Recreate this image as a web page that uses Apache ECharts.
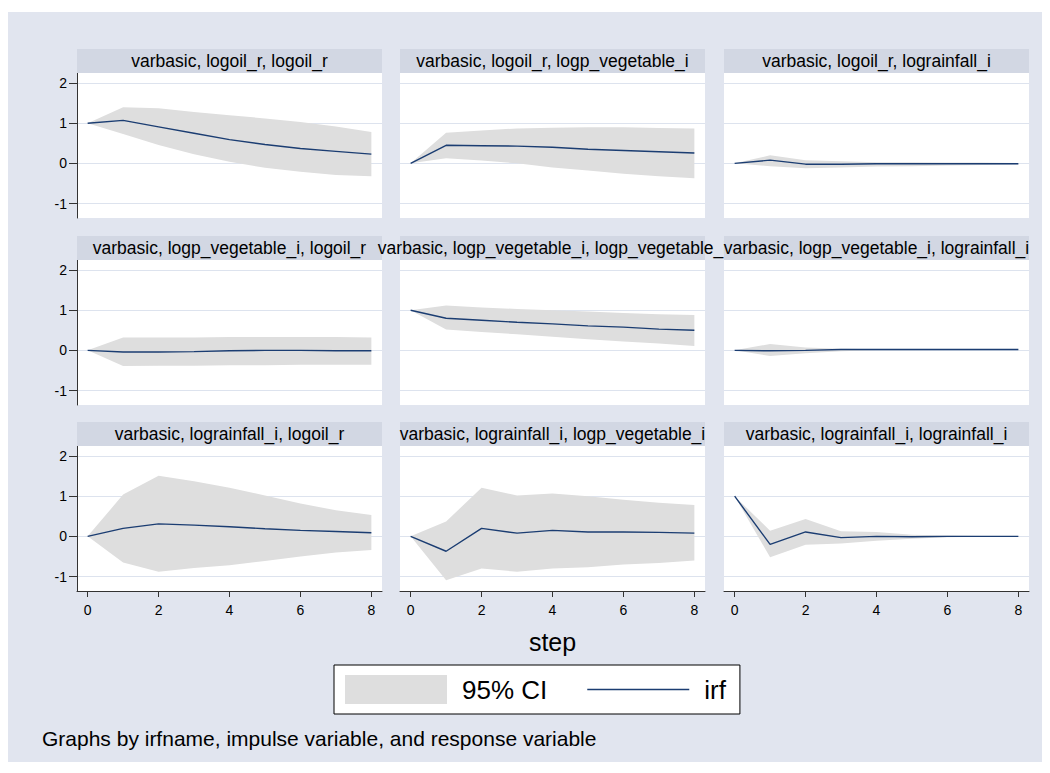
<!DOCTYPE html>
<html>
<head>
<meta charset="utf-8">
<script src="https://cdn.jsdelivr.net/npm/echarts@6/dist/echarts.min.js"></script>
<style>html,body{margin:0;padding:0;background:#fff}#chart{width:1050px;height:773px}</style>
</head>
<body>
<div id="chart"></div>
<script>
// ---------- data ----------
const steps = [0, 1, 2, 3, 4, 5, 6, 7, 8];
const xTicks = [0, 2, 4, 6, 8];
const yTicks = [-1, 0, 1, 2];

const panelTitles = [
  'varbasic, logoil_r, logoil_r',
  'varbasic, logoil_r, logp_vegetable_i',
  'varbasic, logoil_r, lograinfall_i',
  'varbasic, logp_vegetable_i, logoil_r',
  'varbasic, logp_vegetable_i, logp_vegetable_i',
  'varbasic, logp_vegetable_i, lograinfall_i',
  'varbasic, lograinfall_i, logoil_r',
  'varbasic, lograinfall_i, logp_vegetable_i',
  'varbasic, lograinfall_i, lograinfall_i'
];

// impulse logoil_r
const irf_oil_oil   = [1.00, 1.07, 0.91, 0.75, 0.59, 0.47, 0.37, 0.30, 0.23];
const lo_oil_oil    = [1.00, 0.73, 0.46, 0.23, 0.04, -0.11, -0.21, -0.29, -0.32];
const up_oil_oil    = [1.00, 1.40, 1.37, 1.28, 1.20, 1.12, 1.03, 0.92, 0.78];

const irf_oil_veg   = [0.00, 0.45, 0.44, 0.43, 0.40, 0.35, 0.32, 0.29, 0.26];
const lo_oil_veg    = [0.00, 0.13, 0.07, 0.00, -0.10, -0.18, -0.26, -0.32, -0.37];
const up_oil_veg    = [0.00, 0.76, 0.82, 0.87, 0.89, 0.90, 0.90, 0.88, 0.87];

const irf_oil_rain  = [0.00, 0.08, -0.02, -0.02, -0.01, -0.01, -0.01, -0.01, -0.01];
const lo_oil_rain   = [0.00, -0.07, -0.12, -0.10, -0.08, -0.07, -0.05, -0.04, -0.03];
const up_oil_rain   = [0.00, 0.20, 0.08, 0.05, 0.03, 0.03, 0.02, 0.02, 0.01];

// impulse logp_vegetable_i
const irf_veg_oil   = [0.00, -0.04, -0.04, -0.03, -0.01, 0.00, 0.00, -0.01, -0.01];
const lo_veg_oil    = [0.00, -0.39, -0.38, -0.38, -0.37, -0.37, -0.36, -0.36, -0.36];
const up_veg_oil    = [0.00, 0.32, 0.32, 0.32, 0.33, 0.33, 0.33, 0.33, 0.32];

const irf_veg_veg   = [1.00, 0.80, 0.75, 0.70, 0.66, 0.61, 0.58, 0.53, 0.50];
const lo_veg_veg    = [1.00, 0.52, 0.46, 0.40, 0.34, 0.28, 0.22, 0.17, 0.11];
const up_veg_veg    = [1.00, 1.12, 1.07, 1.03, 1.00, 0.97, 0.93, 0.90, 0.88];

const irf_veg_rain  = [0.00, -0.01, 0.00, 0.02, 0.02, 0.02, 0.02, 0.02, 0.02];
const lo_veg_rain   = [0.00, -0.14, -0.07, -0.02, 0.00, 0.00, 0.01, 0.01, 0.01];
const up_veg_rain   = [0.00, 0.16, 0.07, 0.04, 0.03, 0.03, 0.03, 0.03, 0.03];

// impulse lograinfall_i
const irf_rain_oil  = [0.00, 0.20, 0.31, 0.28, 0.24, 0.19, 0.15, 0.12, 0.09];
const lo_rain_oil   = [0.00, -0.65, -0.88, -0.79, -0.72, -0.61, -0.50, -0.40, -0.34];
const up_rain_oil   = [0.00, 1.04, 1.51, 1.37, 1.21, 1.02, 0.82, 0.65, 0.53];

const irf_rain_veg  = [0.00, -0.37, 0.20, 0.08, 0.15, 0.11, 0.11, 0.10, 0.08];
const lo_rain_veg   = [0.00, -1.09, -0.80, -0.88, -0.80, -0.77, -0.70, -0.66, -0.60];
const up_rain_veg   = [0.00, 0.37, 1.21, 1.02, 1.07, 1.00, 0.91, 0.84, 0.78];

const irf_rain_rain = [1.00, -0.20, 0.11, -0.03, 0.00, -0.01, 0.00, 0.00, 0.00];
const lo_rain_rain  = [1.00, -0.52, -0.21, -0.18, -0.11, -0.06, -0.02, -0.01, -0.01];
const up_rain_rain  = [1.00, 0.14, 0.43, 0.13, 0.11, 0.04, 0.02, 0.01, 0.01];

// ---------- layout / style ----------
const panels = [
  [irf_oil_oil, lo_oil_oil, up_oil_oil],
  [irf_oil_veg, lo_oil_veg, up_oil_veg],
  [irf_oil_rain, lo_oil_rain, up_oil_rain],
  [irf_veg_oil, lo_veg_oil, up_veg_oil],
  [irf_veg_veg, lo_veg_veg, up_veg_veg],
  [irf_veg_rain, lo_veg_rain, up_veg_rain],
  [irf_rain_oil, lo_rain_oil, up_rain_oil],
  [irf_rain_veg, lo_rain_veg, up_rain_veg],
  [irf_rain_rain, lo_rain_rain, up_rain_rain]
];

const FONT = '"Liberation Sans", Arial, Helvetica, sans-serif';
const BG = '#e1e5ef';
const STRIP = '#d2d7e3';
const CI = '#dedede';
const NAVY = '#1b3d72';
const GRIDC = '#dde3ee';
const colLeft = [77, 400, 724];
const rowTop = [73, 260, 446];
const W = 305, H = 145, STRIP_H = 24;

const grids = [], xAxes = [], yAxes = [], series = [];
const graphics = [
  { type: 'rect', shape: { x: 8, y: 12, width: 1034, height: 750 }, style: { fill: BG }, z: -10, silent: true }
];

panels.forEach((p, i) => {
  const r = Math.floor(i / 3), c = i % 3;
  const [irf, lo, up] = p;
  grids.push({ left: colLeft[c], top: rowTop[r], width: W, height: H, show: true, backgroundColor: '#fff', borderWidth: 0 });
  const bottomRow = r === 2;
  xAxes.push({
    gridIndex: i, type: 'value', min: -0.3, max: 8.3, show: bottomRow,
    axisLine: { show: true, onZero: false, lineStyle: { color: '#333', width: 1 } },
    axisTick: { show: true, length: 6, customValues: xTicks, lineStyle: { color: '#333' } },
    axisLabel: { show: true, customValues: xTicks, margin: 12, fontSize: 14, color: '#000', fontFamily: FONT },
    splitLine: { show: false },
    name: (bottomRow && c === 1) ? 'step' : '',
    nameLocation: 'middle', nameGap: 38,
    nameTextStyle: { fontSize: 25, color: '#000', fontFamily: FONT }
  });
  const leftCol = c === 0;
  yAxes.push({
    gridIndex: i, type: 'value', min: -1.36, max: 2.25,
    axisLine: { show: leftCol, onZero: false, lineStyle: { color: '#333', width: 1 } },
    axisTick: { show: leftCol, length: 8, customValues: yTicks, lineStyle: { color: '#333' } },
    axisLabel: { show: leftCol, customValues: yTicks, margin: 10, fontSize: 14, color: '#000', fontFamily: FONT },
    splitLine: { show: true, lineStyle: { color: GRIDC, width: 1.2 } }
  });
  // confidence band: one polygon through the axis scale (lower forward, upper backward)
  series.push({
    type: 'custom', name: '95% CI', xAxisIndex: i, yAxisIndex: i,
    data: steps.map((s, k) => [s, lo[k], up[k]]),
    encode: { x: 0, y: [1, 2] },
    itemStyle: { color: CI },
    silent: true, z: 1, clip: true,
    renderItem: function (params, api) {
      if (params.dataIndex !== 0) return null;
      const pts = [];
      for (let k = 0; k < steps.length; k++) pts.push(api.coord([steps[k], lo[k]]));
      for (let k = steps.length - 1; k >= 0; k--) pts.push(api.coord([steps[k], up[k]]));
      return { type: 'polygon', shape: { points: pts }, style: { fill: CI, stroke: null } };
    }
  });
  series.push({
    type: 'line', name: 'irf', xAxisIndex: i, yAxisIndex: i,
    data: steps.map((s, k) => [s, irf[k]]),
    symbol: 'none', showSymbol: false, color: NAVY, lineStyle: { color: NAVY, width: 1.4 }, z: 3
  });
  graphics.push({
    type: 'rect', shape: { x: colLeft[c], y: rowTop[r] - STRIP_H, width: W, height: STRIP_H },
    style: { fill: STRIP }, z: 100 + 2 * i, silent: true
  });
  graphics.push({
    type: 'text', x: colLeft[c] + W / 2, y: rowTop[r] - STRIP_H / 2,
    style: { text: panelTitles[i], fill: '#000', font: '17.5px ' + FONT, align: 'center', verticalAlign: 'middle' },
    z: 101 + 2 * i, silent: true
  });
});

const chart = echarts.init(document.getElementById('chart'), null, { renderer: 'svg' });
chart.setOption({
  animation: false,
  backgroundColor: '#fff',
  textStyle: { fontFamily: FONT },
  title: {
    text: 'Graphs by irfname, impulse variable, and response variable',
    left: 37, top: 723,
    textStyle: { fontSize: 21, fontWeight: 'normal', color: '#000', fontFamily: FONT }
  },
  legend: {
    left: 334, top: 665,
    padding: [10, 14, 10, 11],
    itemWidth: 102, itemHeight: 29, itemGap: 40,
    symbolKeepAspect: true,
    backgroundColor: '#fff', borderColor: '#000', borderWidth: 1, borderRadius: 0,
    textStyle: { fontSize: 26, color: '#000', fontFamily: FONT, padding: [0, 0, 0, 10] },
    data: [
      { name: '95% CI', icon: 'rect', itemStyle: { color: CI } },
      { name: 'irf', icon: 'path://M0,0 L68,0 L68,1 L0,1 Z', itemStyle: { color: NAVY } }
    ],
    selectedMode: false
  },
  grid: grids,
  xAxis: xAxes,
  yAxis: yAxes,
  series: series,
  graphic: graphics
});
</script>
</body>
</html>
